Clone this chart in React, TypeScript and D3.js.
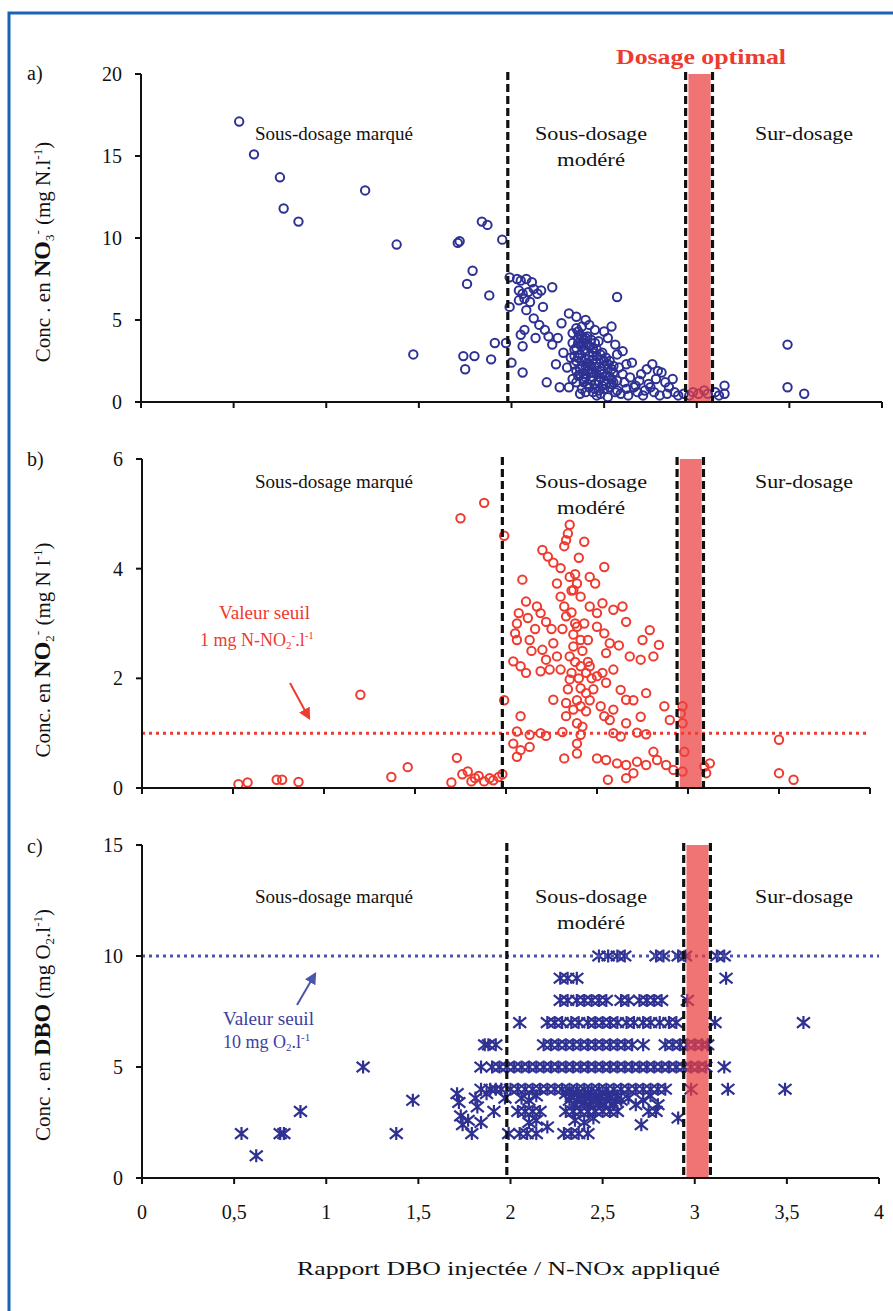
import React from 'react';
import * as d3 from 'd3';

// x axis (shared by the three panels)
const X_TICKS = [0, 0.5, 1, 1.5, 2, 2.5, 3, 3.5, 4];
const X_TICK_LABELS = ['0', '0,5', '1', '1,5', '2', '2,5', '3', '3,5', '4'];
const ZONE_LIMIT = 1.98;
const OPTIMAL_BAND = [2.955, 3.075];
const OPTIMAL_LIMITS = [2.94, 3.085];

const NO3_TICKS = [0, 5, 10, 15, 20];
const NO2_TICKS = [0, 2, 4, 6];
const DBO_TICKS = [0, 5, 10, 15];
const NO2_THRESHOLD = 1;
const DBO_THRESHOLD = 10;

// a) NO3- (x = rapport DBO/N-NOx, y = mg N/l)
const no3Points = [
  [0.53, 17.1], [0.61, 15.1], [0.75, 13.7], [0.77, 11.8], [0.85, 11.0], [1.21, 12.9], [1.38, 9.6], [1.47, 2.9],
  [1.71, 9.7], [1.72, 9.8], [1.74, 2.8], [1.75, 2.0], [1.76, 7.2], [1.79, 8.0], [1.80, 2.8], [1.84, 11.0],
  [1.87, 10.8], [1.88, 6.5], [1.89, 2.6], [1.91, 3.6], [1.95, 9.9], [1.97, 3.6], [1.99, 7.6], [1.99, 5.8],
  [2.0, 2.4], [2.06, 1.8],
  [2.03, 7.5], [2.05, 7.4], [2.08, 7.5], [2.11, 7.3], [2.04, 6.8], [2.06, 6.6], [2.09, 6.7], [2.12, 6.9],
  [2.04, 6.2], [2.07, 6.3], [2.10, 6.1], [2.14, 6.6], [2.16, 6.8], [2.22, 7.0], [2.17, 5.8], [2.08, 5.6],
  [2.12, 5.1], [2.07, 4.4], [2.05, 4.1], [2.06, 3.4], [2.15, 4.7], [2.18, 4.4], [2.20, 4.0], [2.13, 3.9],
  [2.22, 3.5], [2.25, 3.9], [2.27, 4.8], [2.31, 5.4], [2.35, 5.2], [2.40, 5.0], [2.38, 4.6], [2.42, 4.7],
  [2.45, 4.4], [2.50, 4.3], [2.54, 4.6], [2.57, 6.4], [2.33, 4.2], [2.36, 3.9], [2.39, 3.6], [2.41, 4.0],
  [2.44, 3.3], [2.47, 3.7], [2.52, 3.9], [2.56, 3.5], [2.34, 3.2], [2.37, 2.9], [2.40, 2.6], [2.43, 2.2],
  [2.46, 2.8], [2.49, 3.0], [2.53, 2.5], [2.57, 2.9], [2.60, 3.1], [2.35, 2.5], [2.38, 2.2], [2.41, 1.9],
  [2.44, 1.5], [2.48, 1.9], [2.51, 1.6], [2.55, 1.8], [2.58, 2.1], [2.62, 2.3], [2.65, 2.4], [2.36, 1.6],
  [2.39, 1.2], [2.42, 0.9], [2.45, 1.1], [2.50, 0.8], [2.54, 1.1], [2.57, 0.7], [2.61, 1.2], [2.64, 1.5],
  [2.67, 1.0], [2.31, 0.9], [2.33, 1.4], [2.37, 0.5], [2.46, 0.4], [2.52, 0.3], [2.59, 0.5], [2.63, 0.4],
  [2.68, 0.6], [2.19, 1.2], [2.26, 0.9], [2.30, 2.1], [2.32, 2.7], [2.28, 3.0], [2.24, 2.3], [2.70, 1.7],
  [2.73, 2.0], [2.76, 2.3], [2.79, 1.9], [2.81, 1.8], [2.78, 1.4], [2.74, 1.1], [2.72, 0.7], [2.77, 0.6],
  [2.83, 1.2], [2.85, 0.9], [2.87, 1.4], [2.80, 0.4], [2.84, 0.5], [2.88, 0.6], [2.90, 0.4], [2.93, 0.5],
  [2.96, 0.4], [2.98, 0.6], [3.01, 0.5], [3.04, 0.7], [3.06, 0.5], [3.10, 0.6], [3.12, 0.4], [3.15, 1.0],
  [3.15, 0.5], [3.49, 3.5], [3.49, 0.9], [3.58, 0.5],
  [2.35, 4.5], [2.37, 4.1], [2.39, 3.8], [2.42, 3.4], [2.44, 3.0], [2.46, 2.4], [2.48, 2.6], [2.50, 2.2],
  [2.52, 2.0], [2.54, 1.4], [2.38, 3.4], [2.40, 3.1], [2.42, 2.8], [2.44, 2.6], [2.36, 3.6], [2.34, 2.8],
  [2.47, 1.3], [2.49, 1.0], [2.53, 0.9], [2.56, 0.6], [2.40, 1.5], [2.43, 1.8], [2.45, 2.1], [2.41, 2.4],
  [2.37, 2.0], [2.39, 1.7], [2.51, 2.7], [2.55, 2.2], [2.57, 1.3], [2.60, 1.7], [2.62, 0.8], [2.66, 0.9],
  [2.69, 1.3], [2.71, 0.4], [2.75, 0.9],
  [2.33, 3.6], [2.35, 3.3], [2.37, 3.5], [2.39, 3.2], [2.41, 3.5], [2.43, 3.8], [2.45, 3.6], [2.34, 2.3],
  [2.36, 2.7], [2.38, 2.5], [2.40, 2.2], [2.42, 2.0], [2.44, 1.8], [2.46, 1.7], [2.48, 1.5], [2.50, 1.3],
  [2.35, 1.9], [2.37, 1.7], [2.39, 1.4], [2.41, 1.1], [2.43, 1.3], [2.45, 0.8], [2.47, 0.7], [2.49, 1.7],
  [2.51, 1.1], [2.53, 1.5], [2.55, 1.2], [2.38, 0.8], [2.40, 0.6], [2.44, 0.6], [2.48, 0.5], [2.35, 1.2],
  [2.36, 4.3], [2.38, 4.0], [2.40, 3.9], [2.46, 3.2], [2.48, 2.9], [2.50, 2.5], [2.52, 2.3], [2.54, 2.0],
];

// b) NO2-
const no2Points = [
  [0.53, 0.07], [0.58, 0.1], [0.74, 0.15], [0.77, 0.15], [0.86, 0.11], [1.2, 1.7], [1.37, 0.2], [1.46, 0.38],
  [1.7, 0.1], [1.73, 0.55], [1.75, 4.92], [1.76, 0.25], [1.79, 0.3], [1.81, 0.12], [1.83, 0.18], [1.85, 0.22],
  [1.88, 5.2], [1.88, 0.12], [1.91, 0.18], [1.93, 0.14], [1.96, 0.2], [1.99, 4.6], [1.99, 1.6], [1.98, 0.25],
  [2.35, 4.8], [2.34, 4.64], [2.33, 4.52], [2.32, 4.41], [2.43, 4.49], [2.2, 4.34], [2.23, 4.22], [2.26, 4.11],
  [2.3, 4.01], [2.54, 4.03], [2.09, 3.8], [2.35, 3.85], [2.39, 3.73], [2.46, 3.85], [2.49, 3.73], [2.28, 3.73],
  [2.37, 3.61], [2.41, 3.49], [2.11, 3.4], [2.17, 3.31], [2.19, 3.19], [2.22, 3.03], [2.07, 3.19], [2.06, 3.0],
  [2.05, 2.82], [2.06, 2.7], [2.13, 2.7], [2.3, 3.49], [2.32, 3.31], [2.33, 3.13], [2.46, 3.31], [2.5, 3.19],
  [2.53, 3.37], [2.59, 3.25], [2.64, 3.31], [2.66, 3.03], [2.39, 2.94], [2.41, 2.7], [2.37, 2.58], [2.35, 2.4],
  [2.41, 2.22], [2.44, 2.1], [2.5, 2.94], [2.54, 2.82], [2.57, 2.64], [2.55, 2.46], [2.79, 2.88], [2.75, 2.7],
  [2.84, 2.61], [2.81, 2.4], [2.74, 2.34], [2.2, 2.52], [2.26, 2.64], [2.22, 2.34], [2.04, 2.31], [2.08, 2.22],
  [2.11, 2.1], [2.19, 2.13], [2.24, 2.16], [2.3, 2.16], [2.46, 2.22], [2.5, 2.04], [2.53, 2.1], [2.59, 2.16],
  [2.55, 1.92], [2.35, 1.98], [2.41, 1.82], [2.44, 1.73], [2.63, 1.79], [2.77, 1.73], [2.66, 1.61], [2.26, 1.61],
  [2.33, 1.55], [2.37, 1.43], [2.41, 1.49], [2.52, 1.49], [2.54, 1.31], [2.57, 1.24], [2.59, 1.43], [2.33, 1.31],
  [2.39, 1.18], [2.42, 1.12], [2.08, 1.31], [2.66, 1.18], [2.87, 1.49], [2.97, 1.49], [2.9, 1.24], [2.96, 1.36],
  [2.97, 1.18],
  [2.06, 1.03], [2.13, 0.97], [2.19, 1.0], [2.22, 0.95], [2.31, 1.02], [2.41, 0.97], [2.59, 1.0], [2.63, 0.94],
  [2.72, 1.01], [2.77, 0.98], [2.04, 0.81], [2.08, 0.69], [2.06, 0.57], [2.13, 0.75], [2.39, 0.81], [2.39, 0.63],
  [2.32, 0.54], [2.5, 0.54], [2.55, 0.51], [2.61, 0.45], [2.66, 0.42], [2.72, 0.48], [2.81, 0.66], [2.83, 0.51],
  [2.77, 0.42], [2.88, 0.42], [2.92, 0.33], [2.97, 0.3], [2.98, 0.66], [3.09, 0.39], [3.12, 0.45], [3.1, 0.27],
  [2.56, 0.15], [2.66, 0.18], [2.7, 0.27], [3.5, 0.88], [3.5, 0.27], [3.58, 0.15],
  [2.36, 3.2], [2.38, 3.0], [2.37, 2.8], [2.38, 2.3], [2.4, 2.0], [2.42, 2.5], [2.45, 2.3], [2.47, 2.0],
  [2.48, 1.8], [2.46, 1.6], [2.44, 1.4], [2.36, 2.1], [2.34, 1.8], [2.39, 1.6], [2.43, 3.0], [2.45, 2.7],
  [2.38, 3.9], [2.36, 3.6], [2.4, 4.2], [2.31, 2.9], [2.28, 2.4], [2.25, 2.9], [2.16, 2.9], [2.14, 2.5],
  [2.12, 3.1], [2.62, 2.6], [2.68, 2.4], [2.7, 1.6], [2.74, 1.3],
];

// c) DBO
const dboPoints = [
  [0.54, 2], [0.62, 1], [0.75, 2], [0.77, 2], [0.86, 3], [1.2, 5], [1.38, 2], [1.47, 3.5], [1.71, 3.8],
  [1.72, 3.4], [1.73, 2.8], [1.74, 2.4], [1.77, 2.6], [1.79, 2.0], [1.81, 3.6], [1.82, 3.2], [1.84, 2.5],
  [1.86, 6.0], [1.84, 5.0], [1.87, 3.8], [1.89, 4.0], [1.91, 3.0], [1.95, 4.0], [1.97, 3.6], [1.99, 2.0],
  [2.48, 10], [2.53, 10], [2.58, 10], [2.62, 10], [2.79, 10], [2.83, 10], [2.91, 10], [2.95, 10], [3.12, 10], [3.16, 10],
  [2.27, 9], [2.31, 9], [2.36, 9], [3.17, 9],
  [2.27, 8], [2.31, 8], [2.36, 8], [2.4, 8], [2.44, 8], [2.48, 8], [2.52, 8], [2.6, 8], [2.64, 8], [2.7, 8],
  [2.74, 8], [2.78, 8], [2.82, 8], [2.96, 8],
  [2.05, 7], [2.2, 7], [2.24, 7], [2.28, 7], [2.33, 7], [2.37, 7], [2.42, 7], [2.46, 7], [2.5, 7], [2.54, 7],
  [2.58, 7], [2.63, 7], [2.67, 7], [2.72, 7], [2.76, 7], [2.81, 7], [2.86, 7], [2.9, 7], [3.11, 7], [3.59, 7],
  [1.88, 6], [1.92, 6], [2.18, 6], [2.22, 6], [2.26, 6], [2.3, 6], [2.34, 6], [2.38, 6], [2.42, 6], [2.46, 6],
  [2.5, 6], [2.54, 6], [2.58, 6], [2.62, 6], [2.66, 6], [2.72, 6], [2.84, 6], [2.88, 6], [2.92, 6], [2.96, 6],
  [3.0, 6], [3.04, 6], [3.07, 6],
  [1.9, 5], [1.94, 5], [1.98, 5], [2.02, 5], [2.06, 5], [2.1, 5], [2.14, 5], [2.18, 5], [2.22, 5], [2.26, 5],
  [2.3, 5], [2.34, 5], [2.38, 5], [2.42, 5], [2.46, 5], [2.5, 5], [2.54, 5], [2.58, 5], [2.62, 5], [2.66, 5],
  [2.7, 5], [2.74, 5], [2.78, 5], [2.82, 5], [2.86, 5], [2.9, 5], [2.94, 5], [2.98, 5], [3.02, 5], [3.06, 5], [3.16, 5],
  [1.84, 4], [1.92, 4], [2.0, 4], [2.04, 4], [2.08, 4], [2.12, 4], [2.16, 4], [2.2, 4], [2.24, 4], [2.28, 4],
  [2.32, 4], [2.36, 4], [2.4, 4], [2.44, 4], [2.48, 4], [2.52, 4], [2.56, 4], [2.6, 4], [2.64, 4], [2.68, 4],
  [2.72, 4], [2.76, 4], [2.8, 4], [2.84, 4], [2.98, 4], [3.18, 4], [3.49, 4],
  [2.3, 3.8], [2.34, 3.8], [2.38, 3.7], [2.42, 3.8], [2.46, 3.7], [2.5, 3.8], [2.54, 3.6], [2.58, 3.7],
  [2.32, 3.5], [2.36, 3.5], [2.4, 3.4], [2.44, 3.5], [2.48, 3.4], [2.52, 3.5], [2.56, 3.3], [2.6, 3.5],
  [2.64, 3.6], [2.68, 3.3], [2.72, 3.5], [2.76, 3.7], [2.8, 3.3], [2.1, 3.5], [2.14, 3.7], [2.06, 3.6],
  [2.33, 3.65], [2.37, 3.6], [2.41, 3.6], [2.45, 3.55], [2.49, 3.65], [2.53, 3.7], [2.57, 3.5], [2.35, 3.3],
  [2.43, 3.3], [2.51, 3.3], [2.04, 3], [2.08, 3], [2.12, 3], [2.16, 3], [2.3, 3], [2.34, 3], [2.38, 3], [2.42, 3],
  [2.46, 3], [2.5, 3], [2.54, 3], [2.58, 3], [2.75, 3], [2.79, 3],
  [2.1, 2.5], [2.14, 2.6], [2.35, 2.6], [2.4, 2.5], [2.45, 2.7], [2.91, 2.7], [2.71, 2.4], [2.2, 2.3],
  [2.05, 2], [2.09, 2], [2.14, 2], [2.29, 2], [2.33, 2], [2.37, 2], [2.42, 2],
];

const SERIF = "'Liberation Serif', 'DejaVu Serif', serif";
const BLUE = '#2e3192';
const RED = '#ee3a2f';
const BAND = 'rgb(236, 62, 62)';
const ARROW_BLUE = '#4a55b0';

function asterisk(s) {
  return `M0,${-s}V${s}M${-s},${-s * 0.8}L${s},${s * 0.8}M${-s},${s * 0.8}L${s},${-s * 0.8}`;
}

function Panel({ points, yDomain, yTicks, yRange, xRange, marker, color, showXLabels, threshold, thresholdColor }) {
  const x = d3.scaleLinear().domain([0, 4]).range(xRange);
  const y = d3.scaleLinear().domain(yDomain).range(yRange);
  const [y0, y1] = yRange;
  const x0 = xRange[0];
  return (
    <g>
      {points.map((p, i) =>
        marker === 'circle' ? (
          <circle key={i} cx={x(p[0])} cy={y(p[1])} r={4.2} fill="none" stroke={color} strokeWidth={2} />
        ) : (
          <path key={i} transform={`translate(${x(p[0])},${y(p[1])})`} d={asterisk(6.5)} fill="none" stroke={color} strokeWidth={2.2} />
        )
      )}
      {threshold != null && (
        <line x1={x(0)} x2={x(4)} y1={y(threshold)} y2={y(threshold)} stroke={thresholdColor} strokeWidth={3} strokeDasharray="3,4" />
      )}
      <rect x={x(OPTIMAL_BAND[0])} width={x(OPTIMAL_BAND[1]) - x(OPTIMAL_BAND[0])} y={y1} height={y0 - y1} fill={BAND} opacity={0.72} />
      {[ZONE_LIMIT, ...OPTIMAL_LIMITS].map((v, i) => (
        <line key={i} x1={x(v)} x2={x(v)} y1={y1 - 2} y2={y0} stroke="#111" strokeWidth={3.2} strokeDasharray="8,4" />
      ))}
      <line x1={x0} x2={x0} y1={y1} y2={y0} stroke="#111" strokeWidth={2} />
      <line x1={x0} x2={xRange[1]} y1={y0} y2={y0} stroke="#111" strokeWidth={2} />
      {yTicks.map(t => (
        <g key={t}>
          <line x1={x0 - 6} x2={x0} y1={y(t)} y2={y(t)} stroke="#111" strokeWidth={2} />
          <text x={x0 - 19} y={y(t) + 7} textAnchor="end" fontSize={20} fontFamily={SERIF} fill="#111">{t}</text>
        </g>
      ))}
      {X_TICKS.map((t, i) => (
        <g key={t}>
          <line x1={x(t)} x2={x(t)} y1={y0} y2={y0 + 6} stroke="#111" strokeWidth={2} />
          {showXLabels && (
            <text x={x(t)} y={y0 + 41} textAnchor="middle" fontSize={20} fontFamily={SERIF} fill="#111">{X_TICK_LABELS[i]}</text>
          )}
        </g>
      ))}
    </g>
  );
}

function ZoneLabels({ top }) {
  const t = { fontSize: 19, fontFamily: SERIF, fill: '#111', lengthAdjust: 'spacingAndGlyphs' };
  return (
    <g>
      <text x={255} y={top} {...t} textLength={158}>Sous-dosage marqué</text>
      <text x={535} y={top} {...t} textLength={112}>Sous-dosage</text>
      <text x={557} y={top + 26} {...t} textLength={68}>modéré</text>
      <text x={755} y={top} {...t} textLength={98}>Sur-dosage</text>
    </g>
  );
}

export default function App() {
  const sub = { fontSize: 13 };
  return (
    <div style={{ position: 'absolute', left: 0, top: 0 }}>
      <svg width={893} height={1311} style={{ display: 'block', background: '#fff' }}>
        <defs>
          <marker id="arrRed" viewBox="0 0 10 10" refX="8" refY="5" markerWidth="6" markerHeight="6" orient="auto">
            <path d="M0,0L10,5L0,10z" fill={RED} />
          </marker>
          <marker id="arrBlue" viewBox="0 0 10 10" refX="8" refY="5" markerWidth="6" markerHeight="6" orient="auto">
            <path d="M0,0L10,5L0,10z" fill={ARROW_BLUE} />
          </marker>
        </defs>
        <rect x={9} y={13} width={900} height={1320} fill="none" stroke="#1a62b4" strokeWidth={3} />

        {/* a) */}
        <Panel points={no3Points} yDomain={[0, 20]} yTicks={NO3_TICKS} yRange={[402, 74]} xRange={[141, 882]} marker="circle" color={BLUE} />
        {/* b) */}
        <Panel points={no2Points} yDomain={[0, 6]} yTicks={NO2_TICKS} yRange={[788, 459]} xRange={[142, 870]} marker="circle" color={RED}
          threshold={NO2_THRESHOLD} thresholdColor={RED} />
        {/* c) */}
        <Panel points={dboPoints} yDomain={[0, 15]} yTicks={DBO_TICKS} yRange={[1178, 845]} xRange={[142, 879]} marker="asterisk" color={BLUE}
          threshold={DBO_THRESHOLD} thresholdColor={ARROW_BLUE} showXLabels />

        <g fontFamily={SERIF} fill="#111" fontSize={20}>
          <text x={27} y={80}>a)</text>
          <text x={27} y={466}>b)</text>
          <text x={27} y={853}>c)</text>
        </g>

        <text x={616} y={64} fontSize={21} fontWeight="bold" fontFamily={SERIF} fill={RED} textLength={170} lengthAdjust="spacingAndGlyphs">Dosage optimal</text>

        <ZoneLabels top={140} />
        <ZoneLabels top={488} />
        <ZoneLabels top={903} />

        {/* y titles */}
        <g fontFamily={SERIF} fill="#111" fontSize={21}>
          <text transform="translate(50,252) rotate(-90)" textAnchor="middle">
            <tspan>Conc . en </tspan><tspan fontWeight="bold" fontSize={24}>NO</tspan>
            <tspan {...sub} dy={4}>3</tspan><tspan {...sub} dy={-12}>-</tspan>
            <tspan dy={8}> (mg N.l</tspan><tspan {...sub} dy={-8}>-1</tspan><tspan dy={8}>)</tspan>
          </text>
          <text transform="translate(50,650) rotate(-90)" textAnchor="middle">
            <tspan>Conc. en </tspan><tspan fontWeight="bold" fontSize={24}>NO</tspan>
            <tspan {...sub} dy={4}>2</tspan><tspan {...sub} dy={-12}>-</tspan>
            <tspan dy={8}> (mg N l</tspan><tspan {...sub} dy={-8}>-1</tspan><tspan dy={8}>)</tspan>
          </text>
          <text transform="translate(50,1025) rotate(-90)" textAnchor="middle">
            <tspan>Conc . en </tspan><tspan fontWeight="bold" fontSize={24}>DBO</tspan>
            <tspan> (mg O</tspan><tspan {...sub} dy={4}>2</tspan><tspan dy={-4}>.l</tspan>
            <tspan {...sub} dy={-8}>-1</tspan><tspan dy={8}>)</tspan>
          </text>
        </g>

        {/* threshold annotations */}
        <g fontFamily={SERIF} fontSize={18} fill={RED}>
          <text x={219} y={619} textLength={91} lengthAdjust="spacingAndGlyphs">Valeur seuil</text>
          <text x={200} y={646}>
            <tspan>1 mg N-NO</tspan><tspan fontSize={11} dy={3}>2</tspan><tspan fontSize={11} dy={-10}>-</tspan>
            <tspan dy={7}>.l</tspan><tspan fontSize={11} dy={-7}>-1</tspan>
          </text>
        </g>
        <line x1={290} y1={683} x2={309} y2={718} stroke={RED} strokeWidth={2} markerEnd="url(#arrRed)" />

        <g fontFamily={SERIF} fontSize={18} fill="#3d3fa0">
          <text x={223} y={1025} textLength={91} lengthAdjust="spacingAndGlyphs">Valeur seuil</text>
          <text x={223} y={1048}>
            <tspan>10 mg O</tspan><tspan fontSize={11} dy={3}>2</tspan><tspan dy={-3}>.l</tspan>
            <tspan fontSize={11} dy={-7}>-1</tspan>
          </text>
        </g>
        <line x1={297} y1={1005} x2={315} y2={974} stroke={ARROW_BLUE} strokeWidth={2} markerEnd="url(#arrBlue)" />

        <text x={297} y={1275} fontSize={19} fontFamily={SERIF} fill="#111" textLength={423} lengthAdjust="spacingAndGlyphs">Rapport DBO injectée  / N-NOx appliqué</text>
      </svg>
    </div>
  );
}
